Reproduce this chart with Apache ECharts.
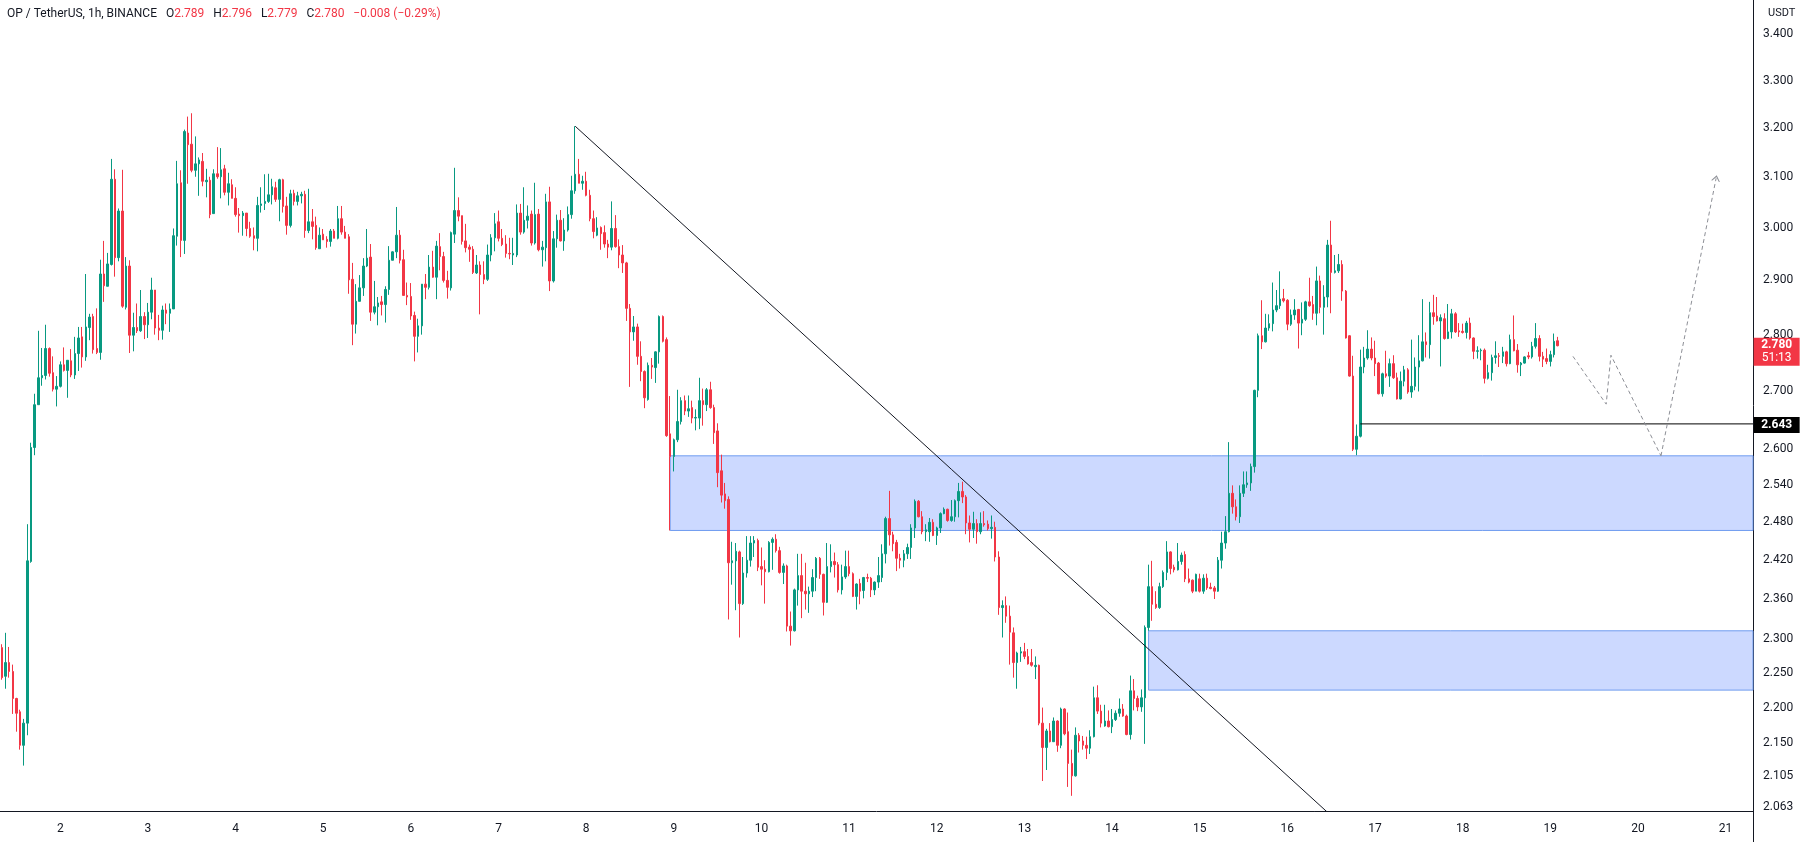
<!DOCTYPE html>
<html><head><meta charset="utf-8">
<script src="https://cdn.jsdelivr.net/npm/echarts@6/dist/echarts.min.js"></script>
<style>html,body{margin:0;padding:0;background:#fff}#c{width:1800px;height:842px}</style>
</head><body><div id="c"></div>
<script>
// OP / USDT 1h candles: [open, close, low, high]; first candle = day 1, 08:00
const candles = [
[2.287,2.243,2.240,2.292],[2.245,2.265,2.227,2.309],[2.265,2.252,2.243,2.288],[2.252,2.213,2.191,2.262],[2.213,2.192,2.166,2.214],
[2.194,2.147,2.141,2.197],[2.147,2.178,2.119,2.184],[2.178,2.419,2.161,2.477],[2.418,2.603,2.416,2.611],[2.603,2.676,2.590,2.695],
[2.676,2.723,2.676,2.807],[2.723,2.727,2.709,2.776],[2.727,2.775,2.720,2.818],[2.775,2.731,2.725,2.777],[2.732,2.703,2.699,2.761],
[2.703,2.708,2.673,2.726],[2.708,2.746,2.706,2.752],[2.746,2.736,2.734,2.777],[2.736,2.754,2.688,2.754],[2.753,2.728,2.724,2.774],
[2.728,2.766,2.721,2.796],[2.766,2.794,2.735,2.814],[2.796,2.760,2.741,2.814],[2.760,2.814,2.753,2.912],[2.813,2.832,2.790,2.838],
[2.833,2.773,2.766,2.838],[2.775,2.768,2.765,2.848],[2.768,2.912,2.755,2.939],[2.912,2.890,2.860,2.975],[2.889,2.931,2.889,2.952],
[2.930,3.096,2.928,3.137],[3.096,2.943,2.907,3.116],[2.943,3.033,2.936,3.038],[3.033,2.852,2.849,3.115],[2.850,2.927,2.846,2.944],
[2.927,2.799,2.767,2.938],[2.799,2.813,2.770,2.840],[2.813,2.807,2.803,2.857],[2.807,2.833,2.805,2.882],[2.833,2.818,2.792,2.841],
[2.818,2.841,2.794,2.858],[2.841,2.882,2.828,2.905],[2.882,2.812,2.800,2.882],[2.812,2.808,2.790,2.836],[2.808,2.845,2.791,2.853],
[2.845,2.839,2.819,2.857],[2.839,2.847,2.805,2.857],[2.847,2.985,2.847,2.999],[2.984,3.087,2.966,3.133],[3.089,2.976,2.944,3.114],
[2.976,3.193,2.950,3.197],[3.190,3.166,3.087,3.224],[3.167,3.114,3.110,3.231],[3.114,3.127,3.101,3.183],[3.127,3.135,3.063,3.140],
[3.132,3.092,3.082,3.149],[3.091,3.094,3.060,3.117],[3.094,3.026,3.019,3.101],[3.028,3.107,3.028,3.116],[3.107,3.101,3.097,3.161],
[3.101,3.115,3.058,3.159],[3.117,3.070,3.064,3.125],[3.070,3.087,3.044,3.109],[3.085,3.058,3.058,3.096],[3.058,3.026,3.022,3.080],
[3.027,3.024,2.991,3.039],[3.024,3.029,2.985,3.033],[3.029,2.999,2.984,3.029],[2.999,2.984,2.981,3.012],[2.985,2.980,2.957,3.001],
[2.980,3.044,2.955,3.061],[3.044,3.047,3.030,3.080],[3.048,3.052,3.035,3.106],[3.052,3.065,3.049,3.107],[3.065,3.081,3.046,3.097],
[3.079,3.056,3.051,3.091],[3.056,3.095,3.013,3.097],[3.095,3.042,3.030,3.097],[3.043,3.005,2.987,3.061],[3.005,3.067,3.001,3.075],
[3.068,3.052,3.044,3.075],[3.052,3.063,3.044,3.071],[3.063,3.066,3.048,3.071],[3.066,2.995,2.981,3.073],[2.995,3.012,2.990,3.077],
[3.012,3.003,2.978,3.037],[3.005,2.962,2.958,3.022],[2.960,2.986,2.960,3.001],[2.988,2.977,2.977,2.998],[2.978,2.974,2.962,2.984],
[2.974,2.994,2.964,2.998],[2.994,2.980,2.980,2.998],[2.980,3.018,2.978,3.043],[3.018,2.992,2.987,3.043],[2.992,2.980,2.980,3.004],
[2.983,2.901,2.875,2.988],[2.902,2.819,2.781,2.933],[2.819,2.861,2.802,2.893],[2.861,2.886,2.861,2.910],[2.886,2.927,2.871,2.942],
[2.927,2.942,2.925,2.998],[2.944,2.841,2.825,2.969],[2.841,2.851,2.837,2.899],[2.851,2.858,2.817,2.869],[2.860,2.855,2.835,2.871],
[2.855,2.883,2.822,2.889],[2.883,2.938,2.873,2.965],[2.938,2.954,2.938,2.955],[2.954,2.986,2.942,3.041],[2.986,2.938,2.932,2.996],
[2.939,2.872,2.872,2.958],[2.872,2.869,2.854,2.896],[2.870,2.834,2.827,2.895],[2.835,2.797,2.752,2.842],[2.797,2.816,2.768,2.829],
[2.816,2.893,2.800,2.893],[2.893,2.887,2.865,2.912],[2.887,2.925,2.883,2.948],[2.925,2.906,2.905,2.956],[2.906,2.965,2.865,2.975],
[2.964,2.945,2.919,2.990],[2.945,2.900,2.896,2.954],[2.900,2.887,2.866,2.918],[2.886,2.991,2.881,2.993],[2.988,3.034,2.971,3.119],
[3.034,3.023,3.013,3.060],[3.024,2.974,2.968,3.024],[2.975,2.962,2.953,3.008],[2.963,2.959,2.935,2.968],[2.959,2.915,2.912,2.965],
[2.914,2.929,2.912,2.948],[2.929,2.911,2.837,2.936],[2.911,2.902,2.893,2.936],[2.902,2.948,2.899,2.968],[2.948,2.981,2.936,2.988],
[2.981,3.008,2.955,3.029],[3.012,2.980,2.974,3.034],[2.980,2.968,2.965,2.998],[2.969,2.951,2.943,2.986],[2.951,2.950,2.940,2.981],
[2.948,2.951,2.929,2.981],[2.948,3.029,2.944,3.046],[3.029,2.992,2.987,3.047],[2.992,3.015,2.989,3.080],[3.015,3.023,2.999,3.044],
[3.027,2.971,2.966,3.034],[2.971,3.026,2.968,3.089],[3.027,2.958,2.955,3.037],[2.958,2.963,2.926,2.975],[2.962,3.051,2.936,3.067],
[3.051,2.899,2.880,3.081],[2.899,2.979,2.896,2.994],[2.979,3.015,2.962,3.026],[3.015,2.975,2.974,3.035],[2.975,2.996,2.956,3.019],
[2.996,3.026,2.993,3.042],[3.026,3.073,3.018,3.103],[3.073,3.106,3.067,3.204],[3.106,3.088,3.088,3.137],[3.088,3.092,3.075,3.103],
[3.092,3.064,3.062,3.111],[3.064,3.018,3.013,3.075],[3.018,2.993,2.980,3.034],[2.986,3.000,2.984,3.021],[3.001,2.989,2.958,3.003],
[2.991,2.969,2.962,3.005],[2.969,2.963,2.942,2.977],[2.963,2.999,2.957,3.052],[2.999,2.964,2.962,3.025],[2.964,2.948,2.923,2.978],
[2.948,2.933,2.914,2.967],[2.933,2.848,2.825,2.935],[2.848,2.805,2.707,2.856],[2.805,2.814,2.789,2.834],[2.814,2.761,2.746,2.820],
[2.761,2.734,2.717,2.788],[2.734,2.688,2.670,2.736],[2.685,2.745,2.683,2.750],[2.745,2.742,2.721,2.758],[2.741,2.769,2.714,2.770],
[2.769,2.833,2.748,2.835],[2.833,2.788,2.786,2.835],[2.791,2.623,2.621,2.795],[2.626,2.588,2.467,2.691],[2.588,2.616,2.563,2.618],
[2.616,2.647,2.612,2.702],[2.647,2.683,2.642,2.689],[2.683,2.665,2.658,2.692],[2.665,2.669,2.655,2.692],[2.671,2.653,2.644,2.683],
[2.653,2.654,2.632,2.668],[2.653,2.683,2.634,2.723],[2.683,2.676,2.640,2.704],[2.676,2.702,2.665,2.705],[2.702,2.671,2.669,2.716],
[2.671,2.628,2.609,2.676],[2.631,2.561,2.537,2.644],[2.564,2.524,2.512,2.591],[2.526,2.515,2.502,2.544],[2.517,2.416,2.329,2.522],
[2.416,2.419,2.382,2.449],[2.419,2.434,2.343,2.447],[2.433,2.353,2.302,2.435],[2.353,2.400,2.351,2.425],[2.400,2.420,2.393,2.458],
[2.420,2.447,2.410,2.458],[2.447,2.451,2.425,2.458],[2.451,2.409,2.403,2.454],[2.410,2.406,2.381,2.440],[2.406,2.402,2.353,2.420],
[2.402,2.448,2.401,2.450],[2.448,2.453,2.405,2.456],[2.453,2.435,2.432,2.461],[2.435,2.401,2.399,2.441],[2.401,2.411,2.383,2.415],
[2.411,2.319,2.311,2.413],[2.319,2.312,2.290,2.341],[2.312,2.374,2.311,2.376],[2.374,2.396,2.350,2.430],[2.396,2.372,2.331,2.430],
[2.372,2.368,2.344,2.416],[2.368,2.372,2.339,2.379],[2.372,2.393,2.363,2.406],[2.393,2.423,2.372,2.425],[2.423,2.398,2.391,2.425],
[2.398,2.355,2.335,2.399],[2.355,2.410,2.354,2.447],[2.410,2.418,2.401,2.445],[2.418,2.413,2.393,2.432],[2.413,2.374,2.370,2.417],
[2.374,2.394,2.367,2.413],[2.394,2.410,2.391,2.435],[2.410,2.399,2.395,2.435],[2.399,2.364,2.363,2.401],[2.364,2.383,2.344,2.384],
[2.384,2.372,2.352,2.391],[2.373,2.393,2.361,2.394],[2.393,2.392,2.386,2.399],[2.392,2.374,2.363,2.394],[2.374,2.386,2.366,2.387],
[2.386,2.396,2.377,2.425],[2.393,2.430,2.386,2.445],[2.430,2.486,2.415,2.489],[2.486,2.460,2.443,2.531],[2.460,2.446,2.434,2.465],
[2.448,2.423,2.403,2.452],[2.423,2.420,2.407,2.430],[2.420,2.430,2.409,2.436],[2.430,2.440,2.422,2.446],[2.440,2.471,2.422,2.477],
[2.471,2.514,2.455,2.517],[2.514,2.489,2.488,2.516],[2.489,2.465,2.461,2.498],[2.465,2.468,2.450,2.477],[2.465,2.480,2.449,2.487],
[2.480,2.459,2.458,2.485],[2.459,2.471,2.444,2.473],[2.471,2.494,2.463,2.496],[2.494,2.501,2.493,2.504],[2.501,2.483,2.481,2.502],
[2.483,2.489,2.481,2.516],[2.489,2.515,2.481,2.517],[2.515,2.530,2.488,2.544],[2.530,2.521,2.511,2.546],[2.521,2.479,2.461,2.524],
[2.479,2.469,2.448,2.491],[2.469,2.478,2.455,2.497],[2.478,2.465,2.446,2.485],[2.465,2.478,2.461,2.496],[2.478,2.476,2.473,2.498],
[2.477,2.470,2.467,2.483],[2.470,2.472,2.454,2.491],[2.472,2.425,2.418,2.481],[2.425,2.347,2.336,2.434],[2.347,2.350,2.302,2.358],
[2.350,2.334,2.324,2.364],[2.334,2.310,2.262,2.350],[2.309,2.265,2.243,2.317],[2.265,2.279,2.227,2.281],[2.279,2.281,2.266,2.288],
[2.281,2.274,2.270,2.294],[2.274,2.263,2.262,2.285],[2.265,2.261,2.259,2.285],[2.259,2.261,2.241,2.274],[2.261,2.178,2.175,2.262],
[2.178,2.144,2.098,2.200],[2.144,2.167,2.113,2.170],[2.167,2.152,2.151,2.178],[2.152,2.181,2.152,2.186],[2.181,2.147,2.138,2.182],
[2.147,2.198,2.143,2.200],[2.198,2.163,2.161,2.199],[2.166,2.122,2.090,2.193],[2.122,2.105,2.078,2.141],[2.105,2.161,2.104,2.172],
[2.161,2.153,2.137,2.164],[2.153,2.147,2.141,2.160],[2.147,2.143,2.128,2.159],[2.143,2.159,2.135,2.168],[2.159,2.214,2.158,2.230],
[2.214,2.195,2.191,2.232],[2.195,2.178,2.172,2.204],[2.174,2.181,2.173,2.204],[2.181,2.173,2.172,2.196],[2.173,2.183,2.164,2.198],
[2.183,2.192,2.181,2.196],[2.192,2.198,2.187,2.213],[2.198,2.188,2.187,2.205],[2.188,2.162,2.161,2.190],[2.162,2.224,2.155,2.246],
[2.224,2.213,2.196,2.241],[2.213,2.201,2.195,2.217],[2.201,2.214,2.194,2.226],[2.214,2.317,2.149,2.320],[2.317,2.379,2.312,2.413],
[2.379,2.352,2.327,2.419],[2.352,2.347,2.345,2.372],[2.347,2.379,2.345,2.385],[2.379,2.401,2.377,2.404],[2.401,2.433,2.389,2.450],
[2.433,2.407,2.398,2.434],[2.409,2.405,2.401,2.413],[2.405,2.418,2.404,2.447],[2.418,2.428,2.413,2.432],[2.429,2.391,2.386,2.434],
[2.391,2.386,2.384,2.407],[2.389,2.372,2.369,2.390],[2.372,2.398,2.372,2.399],[2.391,2.372,2.370,2.399],[2.372,2.392,2.368,2.398],
[2.392,2.377,2.374,2.399],[2.378,2.376,2.375,2.385],[2.377,2.372,2.360,2.380],[2.372,2.420,2.371,2.425],[2.420,2.447,2.407,2.465],
[2.447,2.465,2.438,2.490],[2.465,2.527,2.464,2.612],[2.527,2.505,2.494,2.540],[2.505,2.489,2.483,2.517],[2.489,2.527,2.479,2.540],
[2.527,2.541,2.521,2.563],[2.541,2.544,2.536,2.563],[2.544,2.571,2.531,2.576],[2.571,2.701,2.561,2.702],[2.701,2.798,2.689,2.802],
[2.798,2.787,2.774,2.863],[2.787,2.812,2.786,2.838],[2.812,2.820,2.807,2.837],[2.820,2.845,2.806,2.896],[2.845,2.853,2.841,2.882],
[2.853,2.865,2.847,2.917],[2.866,2.862,2.859,2.884],[2.863,2.819,2.808,2.865],[2.819,2.836,2.816,2.846],[2.836,2.845,2.827,2.865],
[2.846,2.821,2.775,2.847],[2.821,2.828,2.799,2.859],[2.828,2.860,2.825,2.862],[2.860,2.853,2.851,2.905],[2.855,2.839,2.827,2.871],
[2.839,2.899,2.817,2.926],[2.899,2.850,2.839,2.909],[2.850,2.869,2.800,2.891],[2.869,2.967,2.850,2.977],[2.967,2.915,2.839,3.014],
[2.915,2.918,2.913,2.948],[2.918,2.930,2.914,2.950],[2.930,2.880,2.862,2.938],[2.880,2.794,2.793,2.882],[2.798,2.726,2.725,2.799],
[2.726,2.600,2.597,2.762],[2.600,2.622,2.590,2.642],[2.622,2.742,2.620,2.773],[2.742,2.758,2.731,2.778],[2.758,2.774,2.755,2.808],
[2.774,2.758,2.754,2.795],[2.758,2.748,2.726,2.789],[2.749,2.695,2.694,2.751],[2.695,2.730,2.690,2.732],[2.730,2.726,2.723,2.771],
[2.726,2.748,2.707,2.757],[2.748,2.723,2.721,2.763],[2.723,2.686,2.685,2.732],[2.686,2.717,2.685,2.734],[2.717,2.737,2.708,2.744],
[2.737,2.698,2.695,2.740],[2.698,2.708,2.688,2.791],[2.708,2.742,2.701,2.759],[2.742,2.753,2.699,2.799],[2.753,2.787,2.752,2.865],
[2.787,2.782,2.759,2.804],[2.782,2.840,2.757,2.860],[2.840,2.833,2.818,2.873],[2.834,2.825,2.824,2.869],[2.825,2.831,2.743,2.837],
[2.829,2.793,2.791,2.839],[2.793,2.805,2.792,2.856],[2.805,2.838,2.793,2.847],[2.838,2.805,2.803,2.841],[2.807,2.805,2.796,2.821],
[2.806,2.804,2.802,2.820],[2.804,2.821,2.793,2.825],[2.821,2.794,2.791,2.831],[2.794,2.770,2.756,2.795],[2.770,2.771,2.757,2.779],
[2.771,2.772,2.754,2.775],[2.772,2.722,2.713,2.775],[2.722,2.732,2.720,2.746],[2.732,2.759,2.718,2.764],[2.759,2.762,2.748,2.788],
[2.762,2.761,2.742,2.767],[2.761,2.769,2.749,2.778],[2.769,2.748,2.743,2.771],[2.748,2.791,2.747,2.800],[2.791,2.771,2.770,2.835],
[2.772,2.746,2.732,2.783],[2.746,2.749,2.726,2.751],[2.749,2.760,2.748,2.761],[2.762,2.760,2.756,2.769],[2.760,2.779,2.757,2.787],
[2.779,2.793,2.775,2.821],[2.793,2.761,2.752,2.799],[2.761,2.756,2.742,2.769],[2.757,2.752,2.747,2.775],[2.752,2.764,2.743,2.771],
[2.764,2.788,2.759,2.802],[2.789,2.780,2.779,2.796]
];

// time axis: hour slots from day 1 08:00; label at each midnight
const hourSlots = 480;
const dayLabels = ['2','3','4','5','6','7','8','9','10','11','12','13','14','15','16','17','18','19','20','21'];
const dayIndex = dayLabels.map((d, i) => 16 + 24 * i);

// price axis (log scale) tick labels
const priceTicks = [3.4, 3.3, 3.2, 3.1, 3.0, 2.9, 2.8, 2.7, 2.6, 2.54, 2.48, 2.42, 2.36, 2.3, 2.25, 2.2, 2.15, 2.105, 2.063];
const priceMin = 2.0577, priceMax = 3.4765;

// drawings
const upperZone = { start: 183, top: 2.589, bottom: 2.467 };
const lowerZone = { start: 314, top: 2.312, bottom: 2.225 };
const levelLine = { start: 372, price: 2.643 };
const trendPoints = [[157, 3.204], [380, 1.982]];
const projection = [[430.2, 2.761], [439.3, 2.677], [440.6, 2.763], [454.3, 2.589], [469.4, 3.098]];
const countdown = '51:13';

const UP = '#089981', DN = '#f23645', INK = '#131722';
const FONT = 'Roboto, "Liberation Sans", sans-serif';
const rightEdge = hourSlots - 0.5;
const xPad = rightEdge - 0.1;

const last = candles[candles.length - 1];
const prevClose = candles[candles.length - 2][1];
const chg = last[1] - prevClose;
const pct = chg / prevClose * 100;
const fmtSigned = (v, d) => (v < 0 ? '\u2212' : '+') + Math.abs(v).toFixed(d);
const gap = '   ';
const header = '{n|OP / TetherUS, 1h, BINANCE}' + gap + '{n|O}{v|' + last[0].toFixed(3) + '}' + gap + '{n|H}{v|' + last[3].toFixed(3) +
  '}' + gap + '{n|L}{v|' + last[2].toFixed(3) + '}' + gap + '{n|C}{v|' + last[1].toFixed(3) + '}' + gap + '{v|' + fmtSigned(chg, 3) + ' (' + fmtSigned(pct, 2) + '%)}';

const chart = echarts.init(document.getElementById('c'), null, { renderer: 'canvas' });
chart.setOption({
  animation: false,
  backgroundColor: '#ffffff',
  textStyle: { fontFamily: FONT },
  title: [
    { left: 2, top: 3, text: header, textStyle: { fontFamily: FONT, fontSize: 12, fontWeight: 'normal',
      rich: { n: { color: INK, fontSize: 12, fontFamily: FONT }, v: { color: DN, fontSize: 12, fontFamily: FONT } } } },
    { left: 1763, top: 3, text: 'USDT', textStyle: { fontFamily: FONT, fontSize: 11, fontWeight: 'normal', color: INK } }
  ],
  grid: { left: 0, right: 47, top: 0, bottom: 31 },
  xAxis: {
    type: 'value', min: -0.5, max: rightEdge,
    axisLine: { show: true, onZero: false, lineStyle: { color: INK, width: 1 } },
    axisTick: { show: false }, splitLine: { show: false },
    axisLabel: { customValues: dayIndex, formatter: v => dayLabels[Math.round((v - 16) / 24)], color: INK, fontSize: 12, margin: 12, fontFamily: FONT }
  },
  yAxis: {
    type: 'log', logBase: 10, position: 'right', min: priceMin, max: priceMax,
    axisLine: { show: true, onZero: false, lineStyle: { color: INK, width: 1 } },
    axisTick: { show: false }, splitLine: { show: false },
    axisLabel: { customValues: priceTicks, formatter: v => v.toFixed(3), color: INK, fontSize: 12, margin: 10, fontFamily: FONT }
  },
  graphic: [{ type: 'line', shape: { x1: 1753.5, y1: 811, x2: 1753.5, y2: 842 }, style: { stroke: INK, lineWidth: 1 } }],
  series: [
    {
      name: 'zones', type: 'line', data: [], z: 1, silent: true,
      markArea: {
        silent: true,
        itemStyle: { color: 'rgba(41,98,255,0.24)', borderColor: '#6f9cf0', borderWidth: 1 },
        data: [
          [{ coord: [upperZone.start, upperZone.top] }, { coord: [rightEdge, upperZone.bottom] }],
          [{ coord: [lowerZone.start, lowerZone.top] }, { coord: [rightEdge, lowerZone.bottom] }]
        ]
      }
    },
    {
      name: 'OPUSDT', type: 'candlestick', z: 2, barWidth: 2,
      data: candles.map((c, i) => [i, c[0], c[1], c[2], c[3]]),
      itemStyle: { color: UP, color0: DN, borderColor: UP, borderColor0: DN, borderWidth: 1 }
    },
    {
      name: 'trend', type: 'line', z: 3, silent: true, symbol: 'none', clip: true,
      data: trendPoints, lineStyle: { color: INK, width: 1 }
    },
    {
      name: 'level', type: 'line', z: 3, silent: true, symbol: 'none',
      data: [[levelLine.start, levelLine.price], [rightEdge, levelLine.price]], lineStyle: { color: '#000', width: 1 }
    },
    {
      name: 'projection', type: 'line', z: 3, silent: true, symbol: 'none',
      data: projection.slice(0, 4), lineStyle: { color: '#8d8f96', width: 1, type: [4, 3] },
      markLine: {
        silent: true, symbol: ['none', 'path://M0,10 L5,0 L10,10 L8.6,10 L5,2.8 L1.4,10 Z'], symbolSize: [9, 6],
        lineStyle: { color: '#8d8f96', width: 1, type: [4, 3] }, label: { show: false },
        data: [[{ coord: projection[3] }, { coord: projection[4] }]]
      }
    },
    {
      name: 'tags', type: 'line', data: [], z: 6, clip: false, silent: true,
      markPoint: {
        silent: true,
        data: [
          { coord: [xPad, last[1]], symbol: 'rect', symbolSize: [46, 28], symbolOffset: [24, 6],
            itemStyle: { color: DN },
            label: { show: true, position: 'inside', formatter: '{p|' + last[1].toFixed(3) + '}\n{t|' + countdown + '}',
              rich: { p: { color: '#fff', fontSize: 12, fontWeight: 'bold', lineHeight: 13, fontFamily: FONT },
                      t: { color: '#fff', fontSize: 12, lineHeight: 13, fontFamily: FONT } } } },
          { coord: [xPad, levelLine.price], symbol: 'rect', symbolSize: [46, 16], symbolOffset: [24, 1],
            itemStyle: { color: '#000' },
            label: { show: true, position: 'inside', formatter: levelLine.price.toFixed(3),
              color: '#fff', fontSize: 12, fontWeight: 'bold', fontFamily: FONT } }
        ]
      }
    }
  ]
});
</script>
</body></html>
